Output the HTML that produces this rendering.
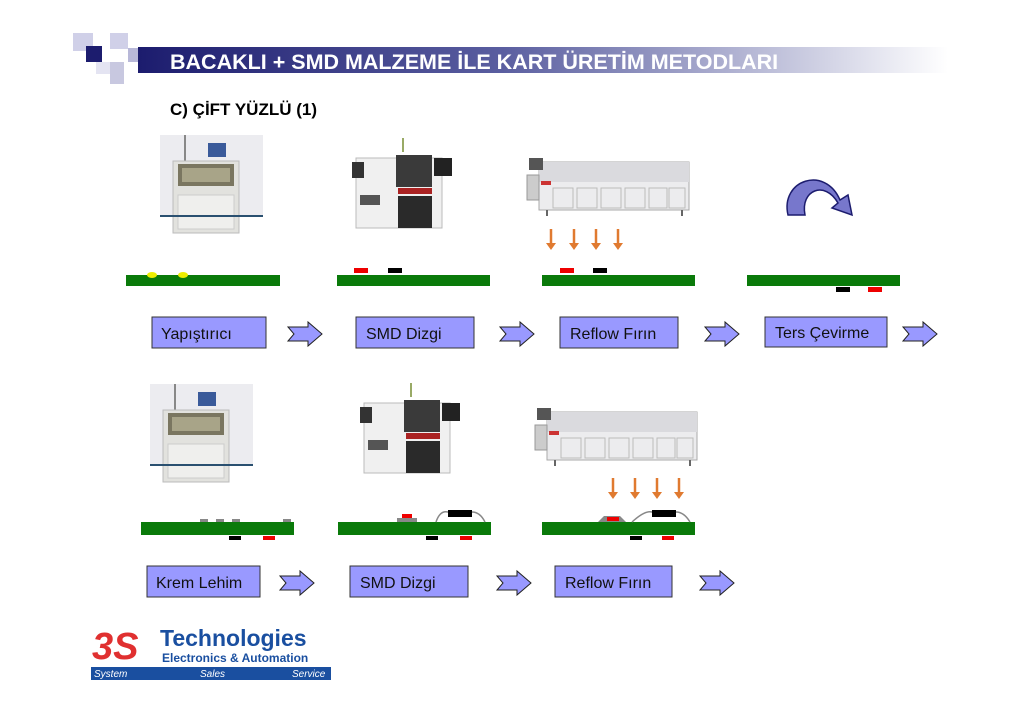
<!DOCTYPE html>
<html><head><meta charset="utf-8"><style>
body{margin:0;background:#fff;}
svg{display:block;font-family:"Liberation Sans",sans-serif;}
</style></head><body>
<svg width="1024" height="724" viewBox="0 0 1024 724" xmlns="http://www.w3.org/2000/svg">
<defs>
<linearGradient id="tb" x1="0" x2="1" y1="0" y2="0">
<stop offset="0" stop-color="#1c1c6e"/><stop offset="0.45" stop-color="#5a5ea0"/><stop offset="1" stop-color="#ffffff"/>
</linearGradient>
<g id="arr"><polygon points="0,5 20,5 20,0 34,12 20,24 20,19 0,19 6,12" fill="#9999ff" stroke="#222" stroke-width="1"/></g>
<g id="oarr"><line x1="0" y1="0" x2="0" y2="16" stroke="#e07a30" stroke-width="2.5"/><polygon points="-5,14 5,14 0,21" fill="#e07a30"/></g>
<g id="printer">
<rect x="0" y="0" width="103" height="82" fill="#ececf0"/>
<line x1="25" y1="0" x2="25" y2="28" stroke="#888" stroke-width="2"/>
<rect x="13" y="26" width="66" height="72" fill="#e2e2de" stroke="#bbb"/>
<rect x="18" y="29" width="56" height="22" fill="#7a7660"/>
<rect x="22" y="33" width="48" height="14" fill="#a8a488"/>
<rect x="48" y="8" width="18" height="14" fill="#3a5a9a"/>
<rect x="18" y="60" width="56" height="34" fill="#efefed" stroke="#ccc"/>
<line x1="0" y1="81" x2="103" y2="81" stroke="#2a5070" stroke-width="2"/>
</g>
<g id="pnp">
<rect x="4" y="28" width="86" height="70" fill="#f0f0f0" stroke="#bbb"/>
<rect x="0" y="32" width="12" height="16" fill="#333"/>
<rect x="44" y="25" width="36" height="32" fill="#3a3a3a"/>
<rect x="46" y="58" width="34" height="6" fill="#a22"/>
<rect x="46" y="66" width="34" height="32" fill="#2a2a2a"/>
<rect x="82" y="28" width="18" height="18" fill="#222"/>
<line x1="51" y1="8" x2="51" y2="22" stroke="#9a6" stroke-width="2"/>
<rect x="8" y="65" width="20" height="10" fill="#555"/>
</g>
<g id="oven">
<rect x="12" y="12" width="150" height="48" fill="#ececee" stroke="#aaa"/>
<rect x="12" y="12" width="150" height="20" fill="#dadade"/>
<rect x="2" y="8" width="14" height="12" fill="#555"/>
<rect x="0" y="25" width="12" height="25" fill="#ccc" stroke="#999"/>
<rect x="14" y="31" width="10" height="4" fill="#c33"/>
<g fill="none" stroke="#bbb"><rect x="26" y="38" width="20" height="20"/><rect x="50" y="38" width="20" height="20"/><rect x="74" y="38" width="20" height="20"/><rect x="98" y="38" width="20" height="20"/><rect x="122" y="38" width="18" height="20"/><rect x="142" y="38" width="16" height="20"/></g>
<line x1="20" y1="60" x2="20" y2="66" stroke="#666" stroke-width="2"/>
<line x1="155" y1="60" x2="155" y2="66" stroke="#666" stroke-width="2"/>
</g>
</defs>
<!-- header -->
<rect x="73" y="33" width="20" height="18" fill="#d0d0e8"/>
<rect x="86" y="46" width="16" height="16" fill="#1c1c6e"/>
<rect x="110" y="33" width="18" height="16" fill="#d0d0e8"/>
<rect x="110" y="62" width="14" height="22" fill="#c8c8e0"/>
<rect x="96" y="62" width="14" height="12" fill="#e4e4f2"/>
<rect x="128" y="48" width="14" height="14" fill="#b8b8d8"/>
<rect x="138" y="47" width="810" height="26" fill="url(#tb)"/>
<text x="170" y="69" font-size="21.5" font-weight="bold" fill="#fff">BACAKLI + SMD MALZEME İLE KART ÜRETİM METODLARI</text>
<text x="170" y="115" font-size="17" font-weight="bold" fill="#000">C) ÇİFT YÜZLÜ (1)</text>
<!-- row1 machines -->
<use href="#printer" x="160" y="135"/>
<use href="#pnp" x="352" y="130"/>
<use href="#oven" x="527" y="150"/>
<path d="M788,215 C780,180 825,165 840,200 L848,195 L852,215 L832,208 L838,203 C825,180 800,190 805,215 Z" fill="#7777cc" stroke="#1c1c6e" stroke-width="1.5"/>
<use href="#oarr" x="551" y="229"/><use href="#oarr" x="574" y="229"/><use href="#oarr" x="596" y="229"/><use href="#oarr" x="618" y="229"/>
<!-- row1 pcbs -->
<rect x="126" y="275" width="154" height="11" fill="#0a7a0a"/>
<ellipse cx="152" cy="275" rx="5" ry="3" fill="#ee0"/><ellipse cx="183" cy="275" rx="5" ry="3" fill="#ee0"/>
<rect x="337" y="275" width="153" height="11" fill="#0a7a0a"/>
<rect x="354" y="268" width="14" height="5" fill="#e00"/><rect x="388" y="268" width="14" height="5" fill="#000"/>
<rect x="542" y="275" width="153" height="11" fill="#0a7a0a"/>
<rect x="560" y="268" width="14" height="5" fill="#e00"/><rect x="593" y="268" width="14" height="5" fill="#000"/>
<rect x="747" y="275" width="153" height="11" fill="#0a7a0a"/>
<rect x="836" y="287" width="14" height="5" fill="#000"/><rect x="868" y="287" width="14" height="5" fill="#e00"/>
<!-- row1 boxes -->
<g font-size="16" fill="#111">
<rect x="152" y="317" width="114" height="31" fill="#9999ff" stroke="#333"/><text x="161" y="339">Yapıştırıcı</text>
<rect x="356" y="317" width="118" height="31" fill="#9999ff" stroke="#333"/><text x="366" y="339">SMD Dizgi</text>
<rect x="560" y="317" width="118" height="31" fill="#9999ff" stroke="#333"/><text x="570" y="339">Reflow Fırın</text>
<rect x="765" y="317" width="122" height="30" fill="#9999ff" stroke="#333"/><text x="775" y="338">Ters Çevirme</text>
</g>
<use href="#arr" x="288" y="322"/><use href="#arr" x="500" y="322"/><use href="#arr" x="705" y="322"/><use href="#arr" x="903" y="322"/>
<!-- row2 machines -->
<use href="#printer" x="150" y="384"/>
<use href="#pnp" x="360" y="375"/>
<use href="#oven" x="535" y="400"/>
<use href="#oarr" x="613" y="478"/><use href="#oarr" x="635" y="478"/><use href="#oarr" x="657" y="478"/><use href="#oarr" x="679" y="478"/>
<!-- row2 pcbs -->
<rect x="141" y="522" width="153" height="13" fill="#0a7a0a"/>
<rect x="200" y="519" width="8" height="3" fill="#888"/><rect x="216" y="519" width="8" height="3" fill="#888"/><rect x="232" y="519" width="8" height="3" fill="#888"/><rect x="283" y="519" width="8" height="3" fill="#888"/>
<rect x="229" y="536" width="12" height="4" fill="#000"/><rect x="263" y="536" width="12" height="4" fill="#e00"/>
<rect x="338" y="522" width="153" height="13" fill="#0a7a0a"/>
<rect x="397" y="518" width="20" height="4" fill="#888"/><rect x="402" y="514" width="10" height="4" fill="#e00"/>
<path d="M436,522 Q440,510 448,512 L472,512 Q480,512 485,522" fill="none" stroke="#888" stroke-width="1.5"/>
<rect x="448" y="510" width="24" height="7" fill="#000"/>
<rect x="426" y="536" width="12" height="4" fill="#000"/><rect x="460" y="536" width="12" height="4" fill="#e00"/>
<rect x="542" y="522" width="153" height="13" fill="#0a7a0a"/>
<path d="M598,522 L604,516 L620,516 L626,522 Z" fill="#888"/><rect x="607" y="517" width="12" height="4" fill="#e00"/>
<path d="M632,522 Q645,510 652,512 L676,512 Q684,512 690,522" fill="none" stroke="#888" stroke-width="1.5"/>
<rect x="652" y="510" width="24" height="7" fill="#000"/>
<rect x="630" y="536" width="12" height="4" fill="#000"/><rect x="662" y="536" width="12" height="4" fill="#e00"/>
<!-- row2 boxes -->
<g font-size="16" fill="#111">
<rect x="147" y="566" width="113" height="31" fill="#9999ff" stroke="#333"/><text x="156" y="588">Krem Lehim</text>
<rect x="350" y="566" width="118" height="31" fill="#9999ff" stroke="#333"/><text x="360" y="588">SMD Dizgi</text>
<rect x="555" y="566" width="117" height="31" fill="#9999ff" stroke="#333"/><text x="565" y="588">Reflow Fırın</text>
</g>
<use href="#arr" x="280" y="571"/><use href="#arr" x="497" y="571"/><use href="#arr" x="700" y="571"/>
<!-- logo -->
<text x="92" y="659" font-size="38" font-weight="bold" font-style="italic" fill="#e03030">3S</text>
<text x="160" y="646" font-size="23" font-weight="bold" fill="#1a4fa0">Technologies</text>
<text x="162" y="662" font-size="12" font-weight="bold" fill="#1a4fa0">Electronics &amp; Automation</text>
<rect x="91" y="667" width="240" height="13" fill="#1a4fa0"/>
<g font-size="10" font-style="italic" fill="#fff"><text x="94" y="677">System</text><text x="200" y="677">Sales</text><text x="292" y="677">Service</text></g>
</svg>
</body></html>
